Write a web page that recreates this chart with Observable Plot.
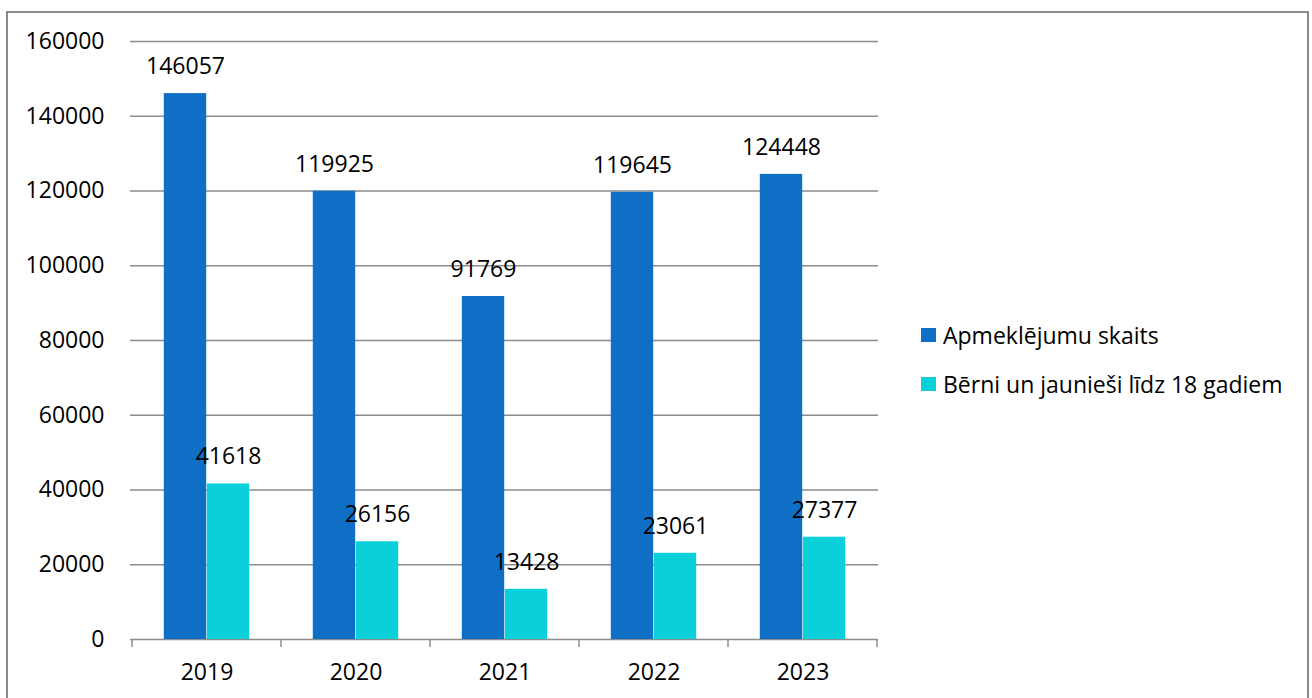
<!DOCTYPE html>
<html>
<head>
<meta charset="utf-8">
<script src="https://cdn.jsdelivr.net/npm/d3@7"></script>
<script src="https://cdn.jsdelivr.net/npm/@observablehq/plot@0.6"></script>
<style>
  html, body { margin: 0; padding: 0; background: #fff; }
  #wrap { position: relative; width: 1312px; height: 698px; overflow: hidden; font-family: "Open Sans", Lato, sans-serif; }
  #border { position: absolute; left: 6px; top: 11px; width: 1303px; height: 720px; border: 2px solid #8a8a8a; box-sizing: border-box; }
  #legend { position: absolute; left: 921px; top: 310px; font-size: 23px; color: #000; }
  .item { display: flex; align-items: center; height: 49px; }
  .sw { width: 15px; height: 14px; margin-right: 7px; }
  #chart { position: absolute; left: 0; top: 0; }
</style>
</head>
<body>
<div id="wrap">
  <div id="chart"></div>
  <div id="border"></div>
  <div id="legend"></div>
</div>
<script>
const years = ["2019", "2020", "2021", "2022", "2023"];
const seriesNames = ["Apmeklējumu skaits", "Bērni un jaunieši līdz 18 gadiem"];
const visits = [146057, 119925, 91769, 119645, 124448];
const youth = [41618, 26156, 13428, 23061, 27377];
const yTicks = [0, 20000, 40000, 60000, 80000, 100000, 120000, 140000, 160000];
const colors = ["#0F6FC6", "#0BD0D9"];

const data = years.flatMap((y, i) => [
  {year: y, series: seriesNames[0], value: visits[i]},
  {year: y, series: seriesNames[1], value: youth[i]}
]);

const W = 1312, H = 698;
const mL = 130, mR = 434, mT = 41, mB = 59;
const band = (W - mL - mR) / years.length;
const barW = band * 0.2875;
const sA = data.filter(d => d.series === seriesNames[0]);
const sB = data.filter(d => d.series === seriesNames[1]);

const boundaryTicks = (index, scales) => {
  const x = scales.x, y = scales.y;
  const bw = x.bandwidth ? x.bandwidth() : band;
  const xs = years.map(v => x(v)).concat([x(years[years.length - 1]) + bw]);
  const g = d3.create("svg:g");
  const y0 = y(0);
  for (const xv of xs) {
    g.append("line").attr("x1", xv).attr("x2", xv).attr("y1", y0).attr("y2", y0 + 8)
      .attr("stroke", "#8c8c8c").attr("stroke-width", 1.5);
  }
  return g.node();
};

const FS = 23;
const chart = Plot.plot({
  width: W, height: H,
  marginLeft: mL, marginRight: mR, marginTop: mT, marginBottom: mB,
  style: {fontFamily: "'Open Sans', Lato, sans-serif", fontSize: FS + "px", color: "#000", background: "transparent"},
  x: {type: "band", domain: years, padding: 0, label: null},
  y: {domain: [0, 160000], label: null},
  marks: [
    Plot.ruleY(yTicks, {stroke: "#8c8c8c", strokeWidth: 1.5}),
    Plot.barY(sA, {x: "year", y: "value", fill: colors[0], insetLeft: band / 2 - barW, insetRight: band / 2}),
    Plot.barY(sB, {x: "year", y: "value", fill: colors[1], insetLeft: band / 2, insetRight: band / 2 - barW}),
    Plot.text(sA, {x: "year", y: "value", text: d => String(d.value), dx: -barW / 2, dy: -27, fill: "#000", fontSize: FS}),
    Plot.text(sB, {x: "year", y: "value", text: d => String(d.value), dx: barW / 2, dy: -27, fill: "#000", fontSize: FS}),
    boundaryTicks,
    Plot.axisY({ticks: yTicks, tickSize: 0, tickPadding: 26, tickFormat: d => String(d), fontSize: FS, label: null}),
    Plot.axisX({tickSize: 0, tickPadding: 24, fontSize: FS, label: null})
  ]
});
document.getElementById("chart").appendChild(chart);

const legend = document.getElementById("legend");
seriesNames.forEach((name, i) => {
  const item = document.createElement("div");
  item.className = "item";
  const sw = document.createElement("div");
  sw.className = "sw";
  sw.style.background = colors[i];
  const t = document.createElement("span");
  t.textContent = name;
  item.appendChild(sw);
  item.appendChild(t);
  legend.appendChild(item);
});
</script>
</body>
</html>
